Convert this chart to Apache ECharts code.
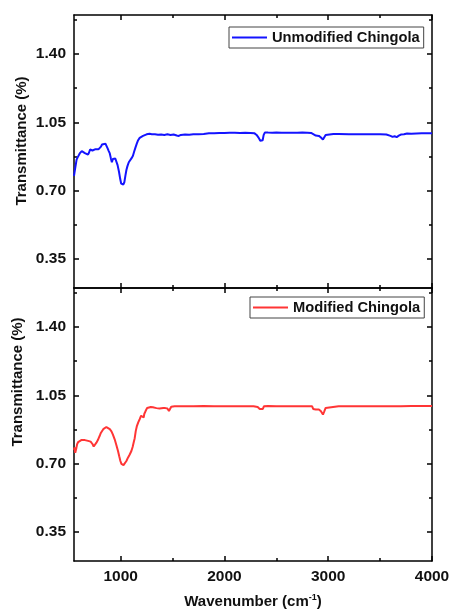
<!DOCTYPE html>
<html>
<head>
<meta charset="utf-8">
<script src="https://cdn.jsdelivr.net/npm/echarts@6.0.0/dist/echarts.min.js"></script>
<style>
  html, body { margin: 0; padding: 0; background: #fff; }
  #chart { width: 451px; height: 614px; }
</style>
</head>
<body>
<div id="chart"></div>
<script>
// FTIR spectra
const unmodWave = [550, 555, 560, 568, 575, 585, 595, 605, 615, 625, 640, 655, 670, 685, 695, 705, 718, 728, 735, 745, 758, 770, 785, 798, 810, 820, 835, 853, 865, 875, 885, 895, 905, 915, 925, 936, 948, 959, 970, 984, 995, 1005, 1015, 1025, 1035, 1045, 1055, 1065, 1078, 1090, 1105, 1118, 1130, 1142, 1155, 1168, 1183, 1200, 1215, 1231, 1250, 1279, 1300, 1330, 1360, 1390, 1420, 1450, 1480, 1510, 1540, 1560, 1580, 1620, 1660, 1700, 1750, 1800, 1850, 1900, 1950, 2000, 2050, 2100, 2150, 2200, 2250, 2290, 2310, 2330, 2345, 2357, 2368, 2378, 2390, 2420, 2460, 2500, 2550, 2600, 2650, 2700, 2750, 2800, 2835, 2850, 2880, 2910, 2930, 2949, 2960, 2975, 2990, 3050, 3100, 3200, 3300, 3400, 3500, 3560, 3600, 3620, 3640, 3660, 3680, 3700, 3730, 3760, 3800, 3850, 3900, 3950, 4000];
const unmodT = [0.775, 0.782, 0.810, 0.835, 0.858, 0.870, 0.878, 0.890, 0.898, 0.902, 0.897, 0.892, 0.888, 0.884, 0.895, 0.910, 0.918, 0.905, 0.900, 0.907, 0.912, 0.909, 0.911, 0.913, 0.925, 0.936, 0.940, 0.940, 0.930, 0.915, 0.902, 0.890, 0.866, 0.845, 0.862, 0.868, 0.864, 0.856, 0.830, 0.795, 0.760, 0.735, 0.728, 0.731, 0.742, 0.775, 0.805, 0.825, 0.845, 0.855, 0.866, 0.878, 0.900, 0.920, 0.940, 0.958, 0.970, 0.976, 0.980, 0.983, 0.988, 0.991, 0.989, 0.988, 0.986, 0.987, 0.985, 0.988, 0.985, 0.987, 0.982, 0.980, 0.985, 0.987, 0.986, 0.988, 0.988, 0.990, 0.993, 0.994, 0.995, 0.995, 0.996, 0.996, 0.995, 0.996, 0.995, 0.993, 0.985, 0.970, 0.955, 0.946, 0.958, 0.985, 0.998, 0.997, 0.996, 0.997, 0.996, 0.996, 0.996, 0.996, 0.997, 0.996, 0.995, 0.985, 0.982, 0.980, 0.972, 0.961, 0.970, 0.985, 0.990, 0.990, 0.990, 0.989, 0.989, 0.989, 0.989, 0.987, 0.980, 0.975, 0.978, 0.974, 0.981, 0.987, 0.988, 0.992, 0.991, 0.992, 0.993, 0.993, 0.994];

const modWave = [550, 555, 562, 567, 573, 580, 590, 606, 620, 638, 655, 670, 686, 700, 710, 718, 728, 740, 750, 766, 780, 790, 800, 810, 820, 832, 846, 862, 878, 895, 911, 925, 942, 958, 974, 986, 997, 1007, 1016, 1027, 1038, 1055, 1070, 1087, 1103, 1115, 1125, 1135, 1145, 1155, 1170, 1183, 1197, 1209, 1215, 1221, 1228, 1240, 1255, 1272, 1290, 1310, 1327, 1345, 1360, 1375, 1391, 1410, 1430, 1450, 1465, 1475, 1487, 1520, 1567, 1600, 1700, 1800, 1900, 2000, 2100, 2200, 2280, 2320, 2340, 2355, 2370, 2380, 2420, 2500, 2600, 2700, 2800, 2845, 2855, 2880, 2910, 2930, 2949, 2960, 2975, 2990, 3100, 3300, 3500, 3700, 3800, 3900, 4000];
const modT = [0.770, 0.782, 0.755, 0.748, 0.780, 0.799, 0.810, 0.816, 0.820, 0.824, 0.820, 0.818, 0.816, 0.814, 0.812, 0.811, 0.800, 0.787, 0.795, 0.807, 0.820, 0.833, 0.845, 0.858, 0.867, 0.876, 0.884, 0.887, 0.884, 0.876, 0.865, 0.848, 0.824, 0.795, 0.764, 0.737, 0.713, 0.698, 0.691, 0.692, 0.697, 0.713, 0.730, 0.746, 0.764, 0.785, 0.808, 0.830, 0.866, 0.890, 0.912, 0.927, 0.945, 0.952, 0.944, 0.936, 0.955, 0.969, 0.985, 0.992, 0.990, 0.988, 0.987, 0.984, 0.986, 0.982, 0.983, 0.985, 0.984, 0.982, 0.969, 0.978, 0.991, 0.993, 0.994, 0.994, 0.994, 0.995, 0.994, 0.994, 0.994, 0.994, 0.994, 0.990, 0.980, 0.972, 0.980, 0.993, 0.995, 0.994, 0.994, 0.994, 0.994, 0.993, 0.980, 0.977, 0.977, 0.968, 0.951, 0.965, 0.985, 0.993, 0.993, 0.993, 0.993, 0.994, 0.995, 0.995, 0.995];

const xMajor = [1000, 2000, 3000, 4000];
const xMinor = [1500, 2500, 3500];
const yMajor = [0.35, 0.70, 1.05, 1.40];
const yMinor = [0.525, 0.875, 1.225, 1.575];

const FONT = '"Liberation Sans", Arial, sans-serif';
const INK = '#111';

function pairs(xs, ys) {
  return xs.map((x, i) => [x, ys[i]]);
}

function xAxisFor(grid, position, major, labels) {
  let ax = {
    type: 'value',
    gridIndex: grid,
    position: position,
    min: 550,
    max: 4000,
    axisLine: { show: major, onZero: false, lineStyle: { color: '#000', width: 1.5 } },
    axisTick: {
      show: true,
      inside: true,
      length: major ? 5 : 3,
      customValues: major ? xMajor : xMinor,
      lineStyle: { color: '#000', width: 1.5 }
    },
    axisLabel: { show: false },
    splitLine: { show: false }
  };
  if (labels) {
    ax.axisLabel = {
      show: true,
      customValues: xMajor,
      margin: 8,
      color: INK,
      fontFamily: FONT,
      fontWeight: 'bold',
      fontSize: 15.5,
      formatter: v => String(v)
    };
    ax.name = '{t|Wavenumber (cm}{s|-1}{t|)}';
    ax.nameLocation = 'middle';
    ax.nameGap = 32;
    ax.nameTextStyle = {
      rich: {
        t: { fontFamily: FONT, fontWeight: 'bold', fontSize: 15, color: INK, lineHeight: 18 },
        s: { fontFamily: FONT, fontWeight: 'bold', fontSize: 9, color: INK, lineHeight: 10, verticalAlign: 'top' }
      }
    };
  }
  return ax;
}

function yAxisFor(grid, position, major, labels) {
  let ax = {
    type: 'value',
    gridIndex: grid,
    position: position,
    min: 0.2,
    max: 1.6,
    axisLine: { show: major, onZero: false, lineStyle: { color: '#000', width: 1.5 } },
    axisTick: {
      show: true,
      inside: true,
      length: major ? 5 : 3,
      customValues: major ? yMajor : yMinor,
      lineStyle: { color: '#000', width: 1.5 }
    },
    axisLabel: { show: false },
    splitLine: { show: false }
  };
  if (labels) {
    ax.axisLabel = {
      show: true,
      customValues: yMajor,
      margin: 8,
      color: INK,
      fontFamily: FONT,
      fontWeight: 'bold',
      fontSize: 15.5,
      formatter: v => v.toFixed(2)
    };
  }
  return ax;
}

let xAxes = [];
let yAxes = [];
[0, 1].forEach(g => {
  xAxes.push(xAxisFor(g, 'bottom', true, g === 1));
  xAxes.push(xAxisFor(g, 'bottom', false, false));
  xAxes.push(xAxisFor(g, 'top', true, false));
  xAxes.push(xAxisFor(g, 'top', false, false));
  yAxes.push(yAxisFor(g, 'left', true, true));
  yAxes.push(yAxisFor(g, 'left', false, false));
  yAxes.push(yAxisFor(g, 'right', true, false));
  yAxes.push(yAxisFor(g, 'right', false, false));
});

const legendBase = {
  orient: 'horizontal',
  icon: 'rect',
  itemWidth: 35,
  itemHeight: 2,
  padding: [3, 4, 3, 3],
  borderColor: '#444',
  borderWidth: 1,
  backgroundColor: '#fff',
  textStyle: { fontFamily: FONT, fontWeight: 'bold', fontSize: 14.7, color: INK }
};

const chart = echarts.init(document.getElementById('chart'), null, { renderer: 'canvas' });
chart.setOption({
  animation: false,
  backgroundColor: '#fff',
  grid: [
    { left: 74, top: 15, width: 358, height: 273, containLabel: false, outerBoundsMode: 'none' },
    { left: 74, top: 288, width: 358, height: 273, containLabel: false, outerBoundsMode: 'none' }
  ],
  xAxis: xAxes,
  yAxis: yAxes,
  legend: [
    Object.assign({}, legendBase, { data: ['Unmodified Chingola'], left: 229, top: 27 }),
    Object.assign({}, legendBase, { data: ['Modified Chingola'], left: 250, top: 297 })
  ],
  graphic: [
    {
      type: 'text', x: 22, y: 141, rotation: Math.PI / 2,
      style: { text: 'Transmittance (%)', font: 'bold 15px ' + FONT, fill: INK, textAlign: 'center', textVerticalAlign: 'middle' }
    },
    {
      type: 'text', x: 18, y: 382, rotation: Math.PI / 2,
      style: { text: 'Transmittance (%)', font: 'bold 15px ' + FONT, fill: INK, textAlign: 'center', textVerticalAlign: 'middle' }
    }
  ],
  series: [
    {
      name: 'Unmodified Chingola',
      type: 'line',
      xAxisIndex: 0,
      yAxisIndex: 0,
      symbol: 'none',
      color: '#1414ff',
      lineStyle: { width: 2, color: '#1414ff' },
      data: pairs(unmodWave, unmodT)
    },
    {
      name: 'Modified Chingola',
      type: 'line',
      xAxisIndex: 4,
      yAxisIndex: 4,
      symbol: 'none',
      color: '#ff3535',
      lineStyle: { width: 2, color: '#ff3535' },
      data: pairs(modWave, modT)
    }
  ]
});
</script>
</body>
</html>
